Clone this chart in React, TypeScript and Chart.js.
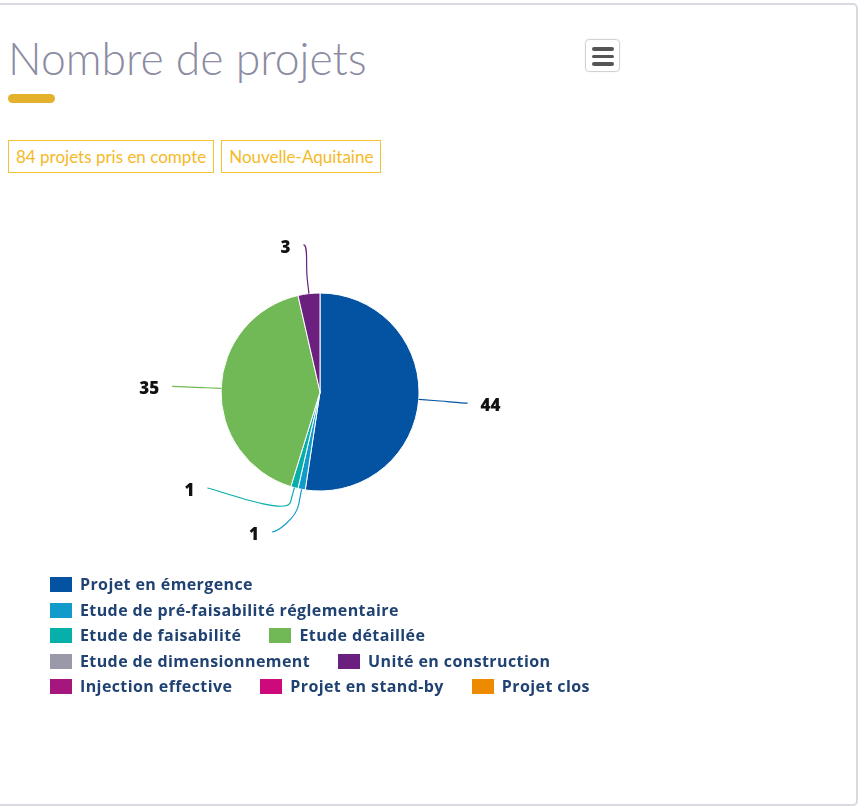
import React, { useEffect, useRef } from "react";
import { Chart, registerables } from "chart.js";

Chart.register(...registerables);

const title = "Nombre de projets";
const badges = ["84 projets pris en compte", "Nouvelle-Aquitaine"];
const categories = [
  "Projet en émergence",
  "Etude de pré-faisabilité réglementaire",
  "Etude de faisabilité",
  "Etude détaillée",
  "Etude de dimensionnement",
  "Unité en construction",
  "Injection effective",
  "Projet en stand-by",
  "Projet clos",
];
const values = [44, 1, 1, 35, 0, 3, 0, 0, 0];
const colors = [
  "#0453a3",
  "#109bcb",
  "#07afaa",
  "#71b957",
  "#9a99aa",
  "#6b207f",
  "#a5177f",
  "#cc0a7c",
  "#ee8a00",
];

const LABEL_DIST = 49;
const BREAK_DIST = 15;
const LABEL_GAP = 13;
const LABEL_SPACING = 44;
const BOTTOM_INSET = 8;

const pieLabels = {
  id: "pieLabels",
  afterDatasetsDraw(chart: any) {
    const ctx = chart.ctx;
    const meta = chart.getDatasetMeta(0);
    const ds = chart.data.datasets[0];
    const items: any[] = [];
    meta.data.forEach((arc: any, i: number) => {
      const v = ds.data[i];
      if (!v) return;
      const p = arc.getProps(["x", "y", "startAngle", "endAngle", "outerRadius"], true);
      const mid = (p.startAngle + p.endAngle) / 2;
      const cos = Math.cos(mid);
      const sin = Math.sin(mid);
      const R2 = p.outerRadius + LABEL_DIST;
      items.push({
        v,
        color: ds.backgroundColor[i],
        cx: p.x,
        cy: p.y,
        r: p.outerRadius,
        R2,
        cos,
        sin,
        left: cos < 0,
        y: p.y + R2 * sin,
      });
    });
    [true, false].forEach((side) => {
      const s = items.filter((it) => it.left === side).sort((a, b) => a.y - b.y);
      for (let k = s.length - 1; k >= 0; k--) {
        const lim = k === s.length - 1 ? s[k].cy + s[k].R2 - BOTTOM_INSET : s[k + 1].y - LABEL_SPACING;
        s[k].y = Math.min(s[k].y, lim);
      }
    });
    ctx.save();
    items.forEach((it) => {
      const dy = it.y - it.cy;
      const dx = Math.sqrt(Math.max(it.R2 * it.R2 - dy * dy, 0));
      const lx = it.cx + (it.left ? -dx : dx);
      const ly = it.y;
      const tx = it.cx + it.r * it.cos;
      const ty = it.cy + it.r * it.sin;
      const bx = it.cx + (it.r + BREAK_DIST) * it.cos;
      const by = it.cy + (it.r + BREAK_DIST) * it.sin;
      ctx.beginPath();
      ctx.moveTo(lx, ly);
      ctx.bezierCurveTo(lx + (it.left ? 5 : -5), ly, 2 * bx - tx, 2 * by - ty, bx, by);
      ctx.lineTo(tx, ty);
      ctx.strokeStyle = it.color;
      ctx.lineWidth = 1.2;
      ctx.stroke();
      ctx.fillStyle = "#111111";
      ctx.font = "800 17px 'Open Sans'";
      ctx.textBaseline = "middle";
      ctx.textAlign = it.left ? "right" : "left";
      ctx.fillText(String(it.v), lx + (it.left ? -LABEL_GAP : LABEL_GAP), ly + 3);
    });
    ctx.restore();
  },
};

function PieChart() {
  const ref = useRef<HTMLCanvasElement>(null);
  useEffect(() => {
    if (!ref.current) return;
    const chart = new Chart(ref.current, {
      type: "pie",
      data: {
        labels: categories,
        datasets: [
          {
            data: values,
            backgroundColor: colors,
            borderColor: "#ffffff",
            borderWidth: 1,
            hoverOffset: 0,
          },
        ],
      },
      options: {
        animation: false,
        responsive: false,
        maintainAspectRatio: false,
        radius: 99,
        plugins: {
          legend: { display: false },
          tooltip: { enabled: false },
        },
      } as any,
      plugins: [pieLabels],
    });
    return () => chart.destroy();
  }, []);
  return (
    <canvas
      ref={ref}
      width={596}
      height={368}
      style={{ position: "absolute", left: 22, top: 208, width: 596, height: 368 }}
    />
  );
}

export default function App() {
  return (
    <div
      style={{
        position: "fixed",
        left: 0,
        top: 0,
        width: 864,
        height: 808,
        background: "#ffffff",
        overflow: "hidden",
        fontFamily: "Lato, sans-serif",
      }}
    >
      <div
        style={{
          position: "absolute",
          left: -10,
          top: 3,
          width: 868,
          height: 803,
          border: "2px solid #d9d9e2",
          borderRadius: 5,
          boxSizing: "border-box",
        }}
      />
      <div
        style={{
          position: "absolute",
          left: 8,
          top: 33,
          fontSize: 44.5,
          lineHeight: "50px",
          fontWeight: 300,
          color: "#8c8ca2",
          whiteSpace: "nowrap",
        }}
      >
        {title}
      </div>
      <div
        style={{
          position: "absolute",
          left: 8,
          top: 94,
          width: 47,
          height: 9,
          borderRadius: 5,
          background: "#e4b12c",
        }}
      />
      <div style={{ position: "absolute", left: 8, top: 140, display: "flex", gap: 7 }}>
        {badges.map((b) => (
          <div
            key={b}
            style={{
              height: 33,
              boxSizing: "border-box",
              border: "1.5px solid #f6c034",
              padding: "0 7px",
              fontSize: 17,
              lineHeight: "31px",
              color: "#f5b926",
              whiteSpace: "nowrap",
            }}
          >
            {b}
          </div>
        ))}
      </div>
      <div
        style={{
          position: "absolute",
          left: 585,
          top: 39,
          width: 35,
          height: 33,
          boxSizing: "border-box",
          border: "1px solid #d2d2d2",
          borderRadius: 4,
          boxShadow: "0 0 2px rgba(0,0,0,0.08)",
        }}
      >
        {[0, 1, 2].map((k) => (
          <div
            key={k}
            style={{
              position: "absolute",
              left: 6,
              top: 7 + k * 7.5,
              width: 22,
              height: 3.5,
              borderRadius: 2,
              background: "#555555",
            }}
          />
        ))}
      </div>
      <PieChart />
      <div
        style={{
          position: "absolute",
          left: 50,
          top: 572,
          width: 565,
          display: "flex",
          flexWrap: "wrap",
          columnGap: 28,
        }}
      >
        {categories.map((c, i) => (
          <div
            key={c}
            style={{ display: "flex", alignItems: "center", height: 25.5, whiteSpace: "nowrap" }}
          >
            <div style={{ width: 22, height: 15, background: colors[i], marginRight: 8 }} />
            <span
              style={{
                fontFamily: "'Open Sans', sans-serif",
                fontSize: 16,
                letterSpacing: 0.4,
                fontWeight: 700,
                color: "#1f4272",
                lineHeight: "25.5px",
              }}
            >
              {c}
            </span>
          </div>
        ))}
      </div>
    </div>
  );
}
